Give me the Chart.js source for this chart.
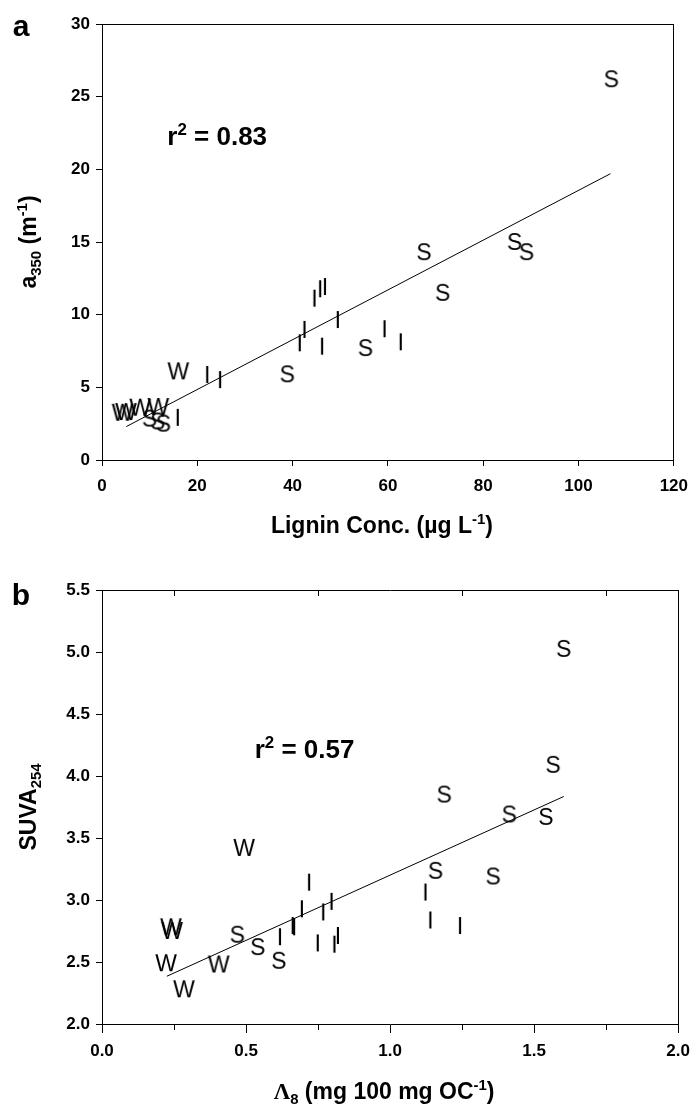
<!DOCTYPE html>
<html>
<head>
<meta charset="utf-8">
<script src="https://cdn.jsdelivr.net/npm/chart.js@4.4.1/dist/chart.umd.min.js"></script>
<style>
  html, body { margin: 0; padding: 0; background: #fff; }
  #page { position: relative; width: 698px; height: 1104px; overflow: hidden;
          font-family: "Liberation Sans", Arial, Helvetica, sans-serif; color: #000; }
  .panel { position: absolute; left: 0; }
  .txt { position: absolute; white-space: nowrap; font-weight: bold; line-height: 1; }
  .txt sub, .txt sup { font-size: 65%; line-height: 0; }
  .tag { font-size: 30px; }
  .r2 { font-size: 26px; }
  .title { font-size: 23px; }
  .lam { font-family: "Liberation Serif", "DejaVu Serif", serif; }
</style>
</head>
<body>
<div id="page">
  <div class="panel" style="top:0"><canvas id="chartA" width="698" height="540"></canvas></div>
  <div class="panel" style="top:540px"><canvas id="chartB" width="698" height="564"></canvas></div>

  <div class="txt tag" id="tagA">a</div>
  <div class="txt tag" id="tagB">b</div>
  <div class="txt r2" id="r2A">r<sup>2</sup> = 0.83</div>
  <div class="txt r2" id="r2B">r<sup>2</sup> = 0.57</div>
  <div class="txt title" id="yTitleA">a<sub>350</sub> (m<sup>-1</sup>)</div>
  <div class="txt title" id="xTitleA">Lignin Conc. (&micro;g L<sup>-1</sup>)</div>
  <div class="txt title" id="yTitleB">SUVA<sub>254</sub></div>
  <div class="txt title" id="xTitleB"><span class="lam">&Lambda;</span><sub>8</sub> (mg 100 mg OC<sup>-1</sup>)</div>
</div>

<script>
// panel a: absorption at 350 nm against lignin concentration
const ligninS = [106.9, 67.6, 86.6, 89.1, 71.5, 55.3, 38.9, 10.0, 11.7, 12.9];
const a350S   = [26.2, 14.3, 15.0, 14.3, 11.5, 7.7, 5.9, 2.85, 2.65, 2.5];
const ligninI = [44.6, 45.8, 46.8, 49.5, 42.5, 41.5, 46.2, 59.3, 62.7, 22.1, 24.8, 15.9];
const a350I   = [11.1, 11.75, 11.9, 9.63, 8.95, 8.03, 7.8, 9.0, 8.1, 5.85, 5.5, 2.9];
const ligninW = [16.0, 4.3, 5.0, 8.0, 11.8];
const a350W   = [6.1, 3.25, 3.3, 3.6, 3.65];
const fitA_x  = [5.1, 106.7];
const fitA_y  = [2.3, 19.7];

// panel b: SUVA254 against lambda-8
const lambdaS = [1.603, 1.566, 1.188, 1.414, 1.541, 1.158, 1.358, 0.470, 0.541, 0.614];
const suvaS   = [5.025, 4.09, 3.85, 3.69, 3.67, 3.235, 3.19, 2.72, 2.62, 2.51];
const lambdaI = [0.719, 1.123, 0.694, 0.797, 0.768, 1.140, 1.243, 0.662, 0.667, 0.618, 0.749, 0.807, 0.819];
const suvaI   = [3.14, 3.06, 2.925, 2.985, 2.90, 2.835, 2.79, 2.79, 2.78, 2.70, 2.65, 2.64, 2.71];
const lambdaW = [0.493, 0.239, 0.243, 0.222, 0.405, 0.284];
const suvaW   = [3.42, 2.78, 2.75, 2.49, 2.48, 2.28];
const fitB_x  = [0.225, 1.603];
const fitB_y  = [2.385, 3.835];

const topTicksB = [0.25, 0.75, 1.25, 1.75];

const FONT = '"Liberation Sans", Arial, Helvetica, sans-serif';
const tickFont = { family: FONT, size: 17, weight: 'bold' };

// letters used as point markers, centred on the cap height
function letterStyle(ch) {
    const c = document.createElement('canvas');
    c.width = 30;
    c.height = 30;
    const g = c.getContext('2d');
    g.font = '23px ' + FONT;
    g.fillStyle = '#000';
    g.textAlign = 'center';
    g.textBaseline = 'alphabetic';
    g.fillText(ch, 15, 15 + 8.2);
    return c;
}

function letterSet(xs, ys, ch) {
    return {
        type: 'scatter',
        data: xs.map((x, i) => ({ x: x, y: ys[i] })),
        pointStyle: letterStyle(ch),
        pointRadius: 4,
        showLine: false
    };
}

function fitSet(xs, ys) {
    return {
        type: 'line',
        data: xs.map((x, i) => ({ x: x, y: ys[i] })),
        borderColor: '#000',
        borderWidth: 1,
        pointRadius: 0,
        fill: false
    };
}

// bottom / left axes carry ticks and labels, top / right only close the frame
function frameAxis(position, min, max) {
    const horiz = position === 'top';
    return {
        type: 'linear', position: position, min: min, max: max,
        ticks: { display: false },
        grid: { display: false },
        border: { display: true, color: '#000', width: 1 },
        afterFit: s => { if (horiz) s.height = 0; else s.width = 0; }
    };
}

function buildPanel(canvasId, cfg) {
    const scales = {
        x: {
            type: 'linear', position: 'bottom', min: cfg.xMin, max: cfg.xMax,
            ticks: {
                stepSize: cfg.xStep, autoSkip: false, maxRotation: 0,
                color: '#000', font: tickFont, padding: cfg.xPad,
                callback: cfg.xLabel
            },
            grid: {
                drawOnChartArea: false, color: '#000', tickColor: '#000',
                tickLength: cfg.xTickLength, tickBorderDash: cfg.xTickDash || []
            },
            border: { color: '#000', width: 1 },
            afterFit: s => { s.height = 34; }
        },
        y: {
            type: 'linear', position: 'left', min: cfg.yMin, max: cfg.yMax,
            ticks: {
                stepSize: cfg.yStep, autoSkip: false, color: '#000',
                font: tickFont, padding: 6, callback: cfg.yLabel
            },
            grid: { drawOnChartArea: false, color: '#000', tickColor: '#000', tickLength: 6 },
            border: { color: '#000', width: 1 },
            afterFit: s => { s.width = 102; }
        },
        xFrame: frameAxis('top', cfg.xMin, cfg.xMax),
        yFrame: frameAxis('right', cfg.yMin, cfg.yMax)
    };
    if (cfg.topTicks) {
        // short inward marks along the top edge
        scales.xMarks = {
            type: 'linear', position: 'top', min: cfg.xMin, max: cfg.xMax,
            afterBuildTicks: s => { s.ticks = cfg.topTicks.map(v => ({ value: v })); },
            ticks: { display: false },
            grid: { display: true, drawOnChartArea: true, drawTicks: false, color: '#000', lineWidth: 1 },
            border: { display: false, dash: [6, 2000] },
            afterFit: s => { s.height = 0; }
        };
    }
    return new Chart(document.getElementById(canvasId), {
        type: 'scatter',
        data: {
            datasets: [
                fitSet(cfg.fitX, cfg.fitY),
                letterSet(cfg.sx, cfg.sy, 'S'),
                letterSet(cfg.ix, cfg.iy, 'I'),
                letterSet(cfg.wx, cfg.wy, 'W')
            ]
        },
        options: {
            responsive: false,
            animation: false,
            events: [],
            layout: { padding: cfg.padding },
            plugins: { legend: { display: false }, tooltip: { enabled: false } },
            scales: scales
        }
    });
}

const chartA = buildPanel('chartA', {
    xMin: 0, xMax: 120, xStep: 20, yMin: 0, yMax: 30, yStep: 5,
    xTickLength: 6, xPad: 10,
    xLabel: v => String(v), yLabel: v => String(v),
    sx: ligninS, sy: a350S, ix: ligninI, iy: a350I, wx: ligninW, wy: a350W,
    fitX: fitA_x, fitY: fitA_y,
    padding: { left: 0, right: 14, top: 24, bottom: 46 }
});

const isMajorB = v => Math.abs(v * 2 - Math.round(v * 2)) < 1e-9;
const chartB = buildPanel('chartB', {
    xMin: 0, xMax: 2, xStep: 0.25, yMin: 2, yMax: 5.5, yStep: 0.5,
    xTickLength: 9, xPad: 8,
    xTickDash: ctx => (ctx.tick && !isMajorB(ctx.tick.value)) ? [5, 40] : [],
    xLabel: v => isMajorB(v) ? v.toFixed(1) : '',
    yLabel: v => v.toFixed(1),
    sx: lambdaS, sy: suvaS, ix: lambdaI, iy: suvaI, wx: lambdaW, wy: suvaW,
    fitX: fitB_x, fitY: fitB_y,
    topTicks: topTicksB,
    padding: { left: 0, right: 14, top: 50, bottom: 46 }
});

// text placed from the chart geometry
function place(id, left, top, transform) {
    const el = document.getElementById(id);
    el.style.left = left + 'px';
    el.style.top = top + 'px';
    el.style.transform = transform;
}

function layoutText(chart, offsetTop, ids, r2At, titleGap) {
    const area = chart.chartArea;
    const midX = (area.left + area.right) / 2;
    const midY = offsetTop + (area.top + area.bottom) / 2;
    place(ids.tag, 21, offsetTop + area.top + ids.tagDy, 'translate(-50%, -50%)');
    place(ids.yTitle, 28, midY, 'translate(-50%, -50%) rotate(-90deg)');
    place(ids.xTitle, midX - 6, offsetTop + area.bottom + titleGap, 'translate(-50%, -50%)');
    place(ids.r2, chart.scales.x.getPixelForValue(r2At[0]),
          offsetTop + chart.scales.y.getPixelForValue(r2At[1]), 'translateY(-50%)');
}

layoutText(chartA, 0, { tag: 'tagA', tagDy: 2, yTitle: 'yTitleA', xTitle: 'xTitleA', r2: 'r2A' }, [13.7, 22.3], 65);
layoutText(chartB, 540, { tag: 'tagB', tagDy: 5, yTitle: 'yTitleB', xTitle: 'xTitleB', r2: 'r2B' }, [0.53, 4.22], 67);
</script>
</body>
</html>
